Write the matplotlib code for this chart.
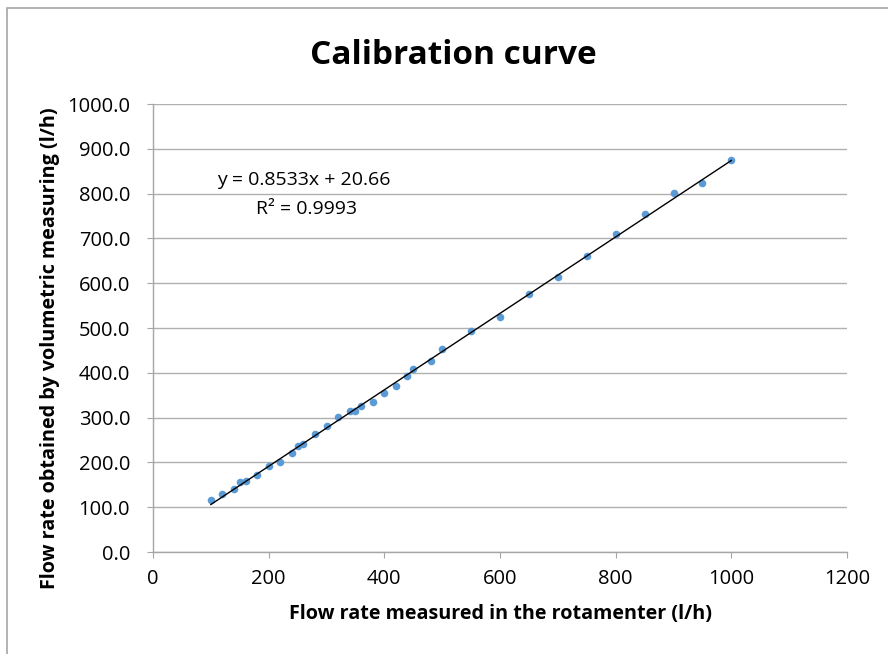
import matplotlib
matplotlib.use("Agg")
import matplotlib.pyplot as plt
from matplotlib.patches import Rectangle
import numpy as np

x_rot = [100, 120, 140, 150, 160, 180, 200, 220, 240, 250, 260, 280, 300, 320,
         340, 350, 360, 380, 400, 420, 440, 450, 480, 500, 550, 600, 650, 700,
         750, 800, 850, 900, 950, 1000]
y_vol = [115.6, 129, 140.8, 155.8, 158, 171.4, 192, 202, 220.5, 235.5, 240,
         264.5, 281.5, 301, 314, 314, 327, 335, 354.5, 371, 392.9, 408.5, 426,
         452.5, 493, 524, 575, 614.5, 661, 710.5, 753.8, 802, 823.7, 875.7]
slope, intercept = 0.8533, 20.66
x_ticks = [0, 200, 400, 600, 800, 1000, 1200]
y_ticks = [0, 100, 200, 300, 400, 500, 600, 700, 800, 900, 1000]

plt.rcParams['font.family'] = ['Open Sans', 'DejaVu Sans']

W, H = 888, 654
fig = plt.figure(figsize=(W / 100, H / 100), dpi=100)
fig.patches.append(Rectangle((7 / W, -0.1), 1.2, 1 - 8 / H + 0.1,
                             transform=fig.transFigure, fill=False,
                             edgecolor='#a6a6a6', linewidth=1.2))

ax = fig.add_axes([153 / W, 1 - 552 / H, (847 - 153) / W, (552 - 104) / H])
ax.set_xlim(0, 1200)
ax.set_ylim(0, 1000)
ax.set_xticks(x_ticks)
ax.set_yticks(y_ticks)
ax.set_yticklabels([f"{v:.1f}" for v in y_ticks])
ax.grid(axis='y', color='#b0b0b0', linewidth=1.0)
ax.set_axisbelow(True)
for s in ['top', 'right']:
    ax.spines[s].set_visible(False)
for s in ['left', 'bottom']:
    ax.spines[s].set_color('#a6a6a6')
    ax.spines[s].set_linewidth(1.0)
ax.tick_params(axis='both', direction='out', length=4.5, color='#a6a6a6',
               labelsize=14.5, labelcolor='black')
ax.tick_params(axis='y', pad=12)
ax.tick_params(axis='x', pad=8)

ax.scatter(x_rot, y_vol, s=30, color='#5b9bd5', zorder=3, linewidths=0)
xf = np.array([min(x_rot), max(x_rot)])
ax.plot(xf, slope * xf + intercept, color='black', linewidth=1.0, zorder=4)

ax.text(111, 830, f"y = {slope}x + {intercept}", fontsize=14, ha='left', va='center')
ax.text(178, 766, "R² = 0.9993", fontsize=14, ha='left', va='center')

fig.text(453 / W, 1 - 55 / H, "Calibration curve", fontsize=24, fontweight='bold',
         ha='center', va='center')
fig.text(500 / W, 1 - 614 / H, "Flow rate measured in the rotamenter (l/h)",
         fontsize=14.2, fontweight='bold', ha='center', va='center')
fig.text(50 / W, 1 - 348 / H, "Flow rate obtained by volumetric measuring (l/h)",
         fontsize=14.2, fontweight='bold', ha='center', va='center', rotation=90)

fig.savefig("out.png", dpi=100)
